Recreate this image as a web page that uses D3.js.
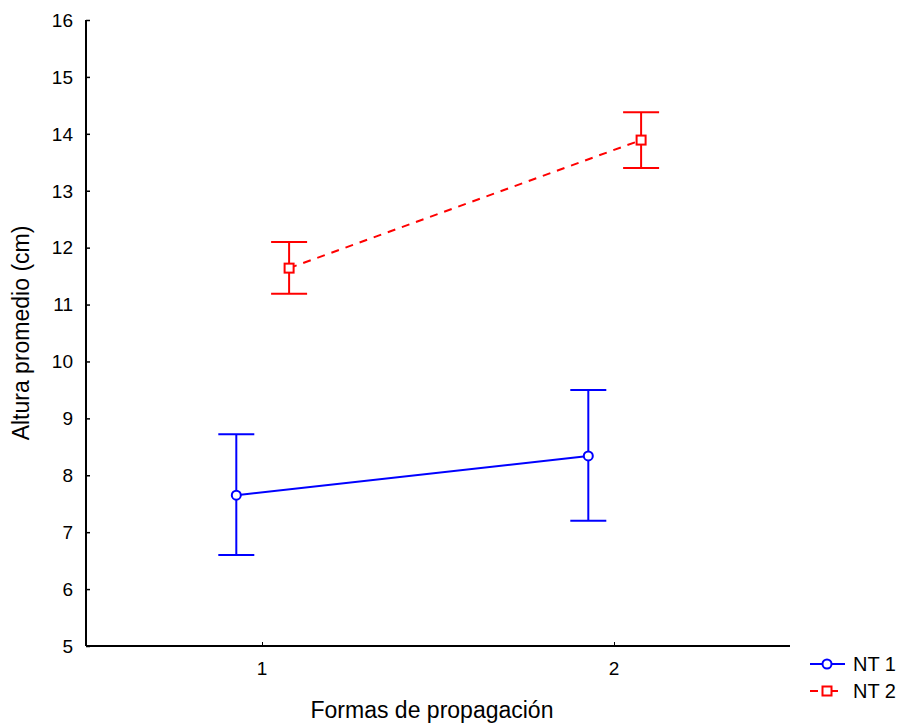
<!DOCTYPE html>
<html>
<head>
<meta charset="utf-8">
<script src="https://cdn.jsdelivr.net/npm/d3@7"></script>
<style>
  body { margin: 0; background: #fff; }
  text { font-family: "Liberation Sans", Arial, sans-serif; }
</style>
</head>
<body>
<div id="chart"></div>
<script>
const categories = [1, 2];
const seriesNames = ["NT 1", "NT 2"];
const nt1Mean = [7.65, 8.34];
const nt1Upper = [8.72, 9.5];
const nt1Lower = [6.6, 7.2];
const nt2Mean = [11.64, 13.89];
const nt2Upper = [12.1, 14.38];
const nt2Lower = [11.19, 13.4];
const yTicks = [5, 6, 7, 8, 9, 10, 11, 12, 13, 14, 15, 16];

const width = 901, height = 723;
const margin = { top: 20, right: 111, bottom: 77, left: 86 };

const svg = d3
  .select("#chart")
  .append("svg")
  .attr("width", width)
  .attr("height", height);

const x = d3.scaleLinear().domain([0.5, 2.5]).range([margin.left, width - margin.right]);
const y = d3.scaleLinear().domain([5, 16]).range([height - margin.bottom, margin.top]);

// axes
const yAxis = svg
  .append("g")
  .attr("transform", `translate(${margin.left},0)`)
  .call(d3.axisRight(y).tickValues(yTicks).tickSize(4).tickFormat(""));
yAxis.select(".domain").attr("stroke-width", 2).attr("d", `M0,${y(16)}V${y(5)}`);
yAxis.selectAll(".tick line").attr("stroke-width", 1.5);

svg
  .selectAll(".ylab")
  .data(yTicks)
  .join("text")
  .attr("x", margin.left - 13)
  .attr("y", (d) => y(d))
  .attr("dy", "0.36em")
  .attr("text-anchor", "end")
  .attr("font-size", 19)
  .text((d) => d);

const xAxis = svg
  .append("g")
  .attr("transform", `translate(0,${y(5)})`)
  .call(d3.axisTop(x).tickValues(categories).tickSize(4).tickFormat(""));
xAxis.select(".domain").attr("stroke-width", 2).attr("d", `M${x(0.5)},0H${x(2.5)}`);
xAxis.selectAll(".tick line").attr("stroke-width", 1);

svg
  .selectAll(".xlab")
  .data(categories)
  .join("text")
  .attr("x", (d) => x(d))
  .attr("y", y(5) + 29)
  .attr("text-anchor", "middle")
  .attr("font-size", 19)
  .text((d) => d);

svg
  .append("text")
  .attr("x", (margin.left + width - margin.right) / 2 - 6)
  .attr("y", 718)
  .attr("text-anchor", "middle")
  .attr("font-size", 23)
  .text("Formas de propagación");

svg
  .append("text")
  .attr("transform", `translate(29,${(y(5) + y(16)) / 2}) rotate(-90)`)
  .attr("text-anchor", "middle")
  .attr("font-size", 23)
  .text("Altura promedio (cm)");

// series
const series = [
  { name: seriesNames[0], mean: nt1Mean, up: nt1Upper, lo: nt1Lower, color: "#0000ff", dash: null, off: -0.073, marker: "circle" },
  { name: seriesNames[1], mean: nt2Mean, up: nt2Upper, lo: nt2Lower, color: "#ff0000", dash: "8,7", off: 0.077, marker: "square" },
];

const cap = 18;

series.forEach((s) => {
  const pts = categories.map((c, i) => ({ c, m: s.mean[i], u: s.up[i], l: s.lo[i] }));
  const g = svg.append("g");

  g.append("path")
    .datum(pts)
    .attr("fill", "none")
    .attr("stroke", s.color)
    .attr("stroke-width", 2)
    .attr("stroke-dasharray", s.dash)
    .attr("d", d3.line().x((d) => x(d.c + s.off)).y((d) => y(d.m)));

  const eb = g.selectAll(".eb").data(pts).join("g").attr("stroke", s.color).attr("stroke-width", 2);
  eb.append("line")
    .attr("x1", (d) => x(d.c + s.off)).attr("x2", (d) => x(d.c + s.off))
    .attr("y1", (d) => y(d.u)).attr("y2", (d) => y(d.l));
  eb.append("line")
    .attr("x1", (d) => x(d.c + s.off) - cap).attr("x2", (d) => x(d.c + s.off) + cap)
    .attr("y1", (d) => y(d.u)).attr("y2", (d) => y(d.u));
  eb.append("line")
    .attr("x1", (d) => x(d.c + s.off) - cap).attr("x2", (d) => x(d.c + s.off) + cap)
    .attr("y1", (d) => y(d.l)).attr("y2", (d) => y(d.l));

  if (s.marker === "circle") {
    g.selectAll(".mk").data(pts).join("circle")
      .attr("cx", (d) => x(d.c + s.off)).attr("cy", (d) => y(d.m)).attr("r", 4.5)
      .attr("fill", "#fff").attr("stroke", s.color).attr("stroke-width", 2);
  } else {
    g.selectAll(".mk").data(pts).join("rect")
      .attr("x", (d) => x(d.c + s.off) - 4.5).attr("y", (d) => y(d.m) - 4.5)
      .attr("width", 9).attr("height", 9)
      .attr("fill", "#fff").attr("stroke", s.color).attr("stroke-width", 2);
  }
});

// legend
const legend = svg.append("g");
series.forEach((s, i) => {
  const ly = 664 + i * 27;
  legend.append("line")
    .attr("x1", 810).attr("x2", 845).attr("y1", ly).attr("y2", ly)
    .attr("stroke", s.color).attr("stroke-width", 2)
    .attr("stroke-dasharray", s.dash ? "8,12" : null);
  if (s.marker === "circle") {
    legend.append("circle").attr("cx", 827).attr("cy", ly).attr("r", 4.5)
      .attr("fill", "#fff").attr("stroke", s.color).attr("stroke-width", 2);
  } else {
    legend.append("rect").attr("x", 822.5).attr("y", ly - 4.5).attr("width", 9).attr("height", 9)
      .attr("fill", "#fff").attr("stroke", s.color).attr("stroke-width", 2);
  }
  legend.append("text").attr("x", 853).attr("y", ly).attr("dy", "0.36em")
    .attr("font-size", 20).text(s.name);
});
</script>
</body>
</html>
